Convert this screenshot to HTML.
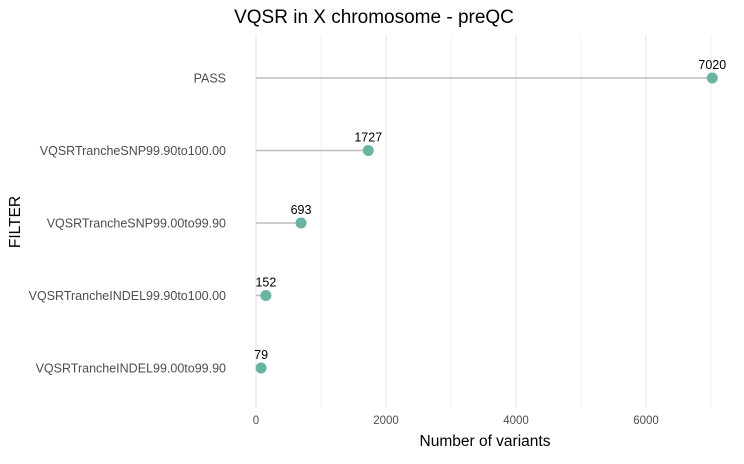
<!DOCTYPE html>
<html><head><meta charset="utf-8"><style>
body{margin:0;background:#fff;font-family:"Liberation Sans",sans-serif}
</style></head><body>
<svg id="chart" width="744" height="459" xmlns="http://www.w3.org/2000/svg" font-family="Liberation Sans, sans-serif">
<text x="374" y="23" text-anchor="middle" font-size="19" fill="#000">VQSR in X chromosome - preQC</text>
<text transform="translate(20,222) rotate(-90)" text-anchor="middle" font-size="15.5" fill="#000">FILTER</text>
<text x="485" y="446" text-anchor="middle" font-size="15.5" fill="#000">Number of variants</text>
<g id="grid"></g><g id="marks"></g><g id="labels"></g>
</svg>
<script>
const categories=["PASS","VQSRTrancheSNP99.90to100.00","VQSRTrancheSNP99.00to99.90","VQSRTrancheINDEL99.90to100.00","VQSRTrancheINDEL99.00to99.90"];
const values=[7020,1727,693,152,79];
const xTicks=[0,2000,4000,6000];
const minorTicks=[1000,3000,5000,7000];
const NS="http://www.w3.org/2000/svg";
const x=v=>256+v*0.065;
const y=i=>78+i*72.5;
function mk(tag,attrs,parent){const e=document.createElementNS(NS,tag);for(const k in attrs)e.setAttribute(k,attrs[k]);parent.appendChild(e);return e;}
const grid=document.getElementById('grid'),marks=document.getElementById('marks'),labels=document.getElementById('labels');
minorTicks.forEach(t=>{const l=mk('line',{x1:x(t),x2:x(t),y1:35,y2:408,stroke:'#f2f2f2','stroke-width':1},grid);

});
xTicks.forEach(t=>{const l=mk('line',{x1:x(t),x2:x(t),y1:35,y2:408,stroke:'#ebebeb','stroke-width':1.4},grid);


const tx=mk('text',{x:x(t),y:424,'text-anchor':'middle','font-size':11.5,fill:'#4d4d4d'},labels);tx.textContent=t;

});
categories.forEach((c,i)=>{
const tl=mk('text',{x:226,y:y(i)+4.5,'text-anchor':'end','font-size':12.5,fill:'#4d4d4d'},labels);tl.textContent=c;


const s=mk('line',{x1:x(0),x2:x(values[i]),y1:y(i),y2:y(i),stroke:'#bebebe','stroke-width':1.5},marks);


const d=mk('circle',{cx:x(values[i]),cy:y(i),r:5.5,fill:'#69b3a2'},marks);


const v=mk('text',{x:x(values[i]),y:y(i)-9,'text-anchor':'middle','font-size':12.5,fill:'#000'},labels);v.textContent=values[i];


});
</script>
</body></html>
